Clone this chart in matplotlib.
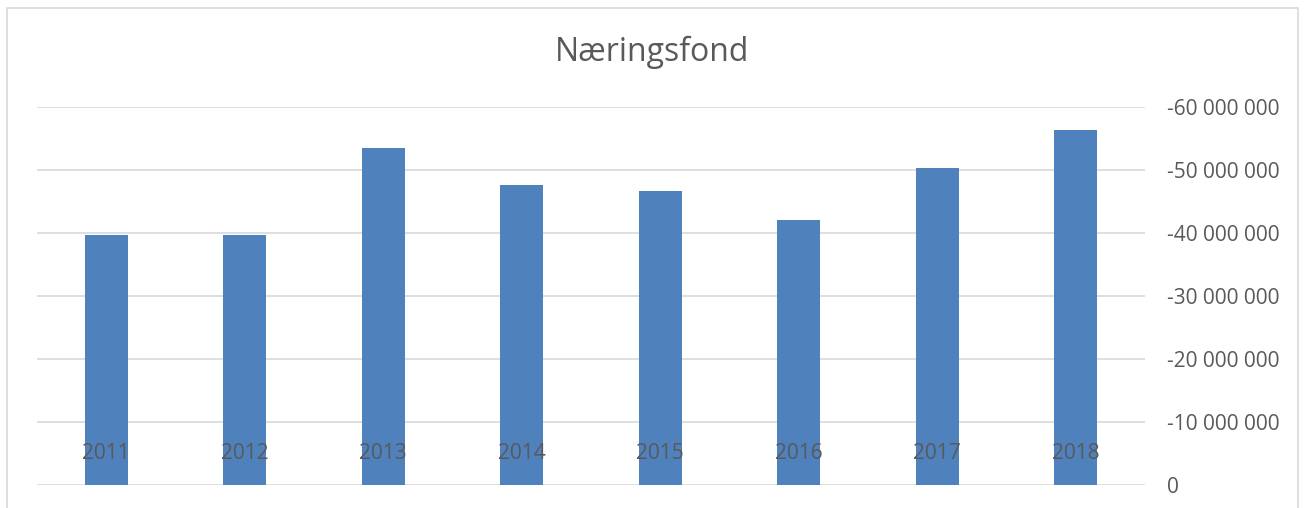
import matplotlib.pyplot as plt
from matplotlib.patches import Rectangle
from matplotlib.ticker import FuncFormatter

years = ['2011', '2012', '2013', '2014', '2015', '2016', '2017', '2018']
values = [-39.7e6, -39.7e6, -53.5e6, -47.6e6, -46.7e6, -42.1e6, -50.3e6, -56.3e6]
yticks = [0, -10e6, -20e6, -30e6, -40e6, -50e6, -60e6]

GREY = '#595959'
plt.rcParams['font.family'] = ['Open Sans', 'DejaVu Sans']

fig = plt.figure(figsize=(13.05, 5.08), dpi=100)
fig.patches.append(Rectangle((7 / 1305, -0.1), 1291 / 1305, 1.1 - 8 / 508,
                             transform=fig.transFigure, fill=False,
                             edgecolor='#d9d9d9', linewidth=1.2))

ax = fig.add_axes([37 / 1305, 1 - 485 / 508, 1108 / 1305, 378 / 508])
x = range(len(years))
ax.bar(x, values, width=0.31, color='#4f81bd', zorder=2)
ax.set_xlim(-0.5, len(years) - 0.5)
ax.set_ylim(0, -60e6)
ax.set_yticks(yticks)
ax.yaxis.tick_right()
ax.yaxis.set_major_formatter(FuncFormatter(
    lambda v, p: '0' if v == 0 else f'{int(round(v)):,}'.replace(',', ' ')))
ax.tick_params(axis='y', length=0, pad=16, labelsize=15, labelcolor=GREY)
ax.set_xticks([])
ax.grid(axis='y', color='#d9d9d9', linewidth=1.2, zorder=0)
for s in ax.spines.values():
    s.set_visible(False)

for i, yr in enumerate(years):
    ax.text(i, -5e6, yr, ha='center', va='center', fontsize=15, color=GREY, zorder=3)

fig.text(652 / 1305, 1 - 52 / 508, 'Næringsfond', ha='center', va='center',
         fontsize=23, color=GREY)

fig.savefig('out.png', dpi=100)
